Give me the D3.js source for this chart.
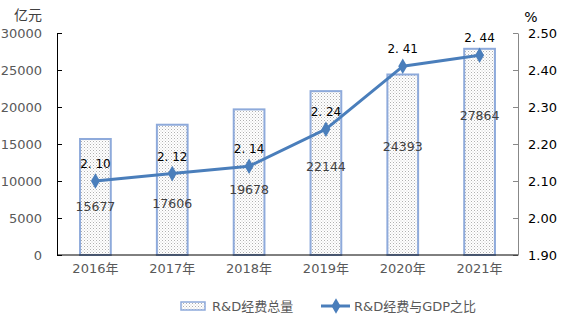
<!DOCTYPE html>
<html><head><meta charset="utf-8">
<script src="https://cdn.jsdelivr.net/npm/d3@7"></script>
<style>body{margin:0;background:#fff}svg{display:block}text{font-family:"DejaVu Sans","Noto Sans CJK SC",sans-serif}</style>
</head><body>
<svg id="c" width="582" height="322"></svg>
<script>
const years = ["2016年","2017年","2018年","2019年","2020年","2021年"];
const rdTotal = [15677, 17606, 19678, 22144, 24393, 27864];
const rdRatio = [2.10, 2.12, 2.14, 2.24, 2.41, 2.44];
const barLabelAt = [6500, 7000, 8900, 11900, 14700, 18800];
const leftTicks = [0, 5000, 10000, 15000, 20000, 25000, 30000];
const rightTicks = [1.90, 2.00, 2.10, 2.20, 2.30, 2.40, 2.50];
const seriesNames = ["R&D经费总量", "R&D经费与GDP之比"];

const svg = d3.select("#c");
const L = 57, R = 518, T = 33, B = 255;
const x = d3.scaleBand().domain(years).range([L, R]).paddingInner(0.6).paddingOuter(0.3);
const xc = d => x(d) + x.bandwidth() / 2;
const yL = d3.scaleLinear().domain([0, 30000]).range([B, T]);
const yR = d3.scaleLinear().domain([1.9, 2.5]).range([B, T]);

const defs = svg.append("defs");
const pat = defs.append("pattern").attr("id", "dots").attr("patternUnits", "userSpaceOnUse")
  .attr("width", 3).attr("height", 3);
pat.append("rect").attr("width", 3).attr("height", 3).attr("fill", "#ffffff");
pat.append("rect").attr("x", 0).attr("y", 0).attr("width", 1).attr("height", 1).attr("fill", "#b0b0b0");
pat.append("rect").attr("x", 1.5).attr("y", 1.5).attr("width", 1).attr("height", 1).attr("fill", "#cccccc");

// left axis
const gl = svg.append("g").attr("transform", `translate(${L},0)`)
  .call(d3.axisLeft(yL).tickValues(leftTicks).tickSizeInner(-5).tickSizeOuter(0).tickPadding(10).tickFormat(d3.format("d")));
gl.select(".domain").attr("stroke", "#000");
gl.selectAll(".tick line").attr("stroke", "#000");
gl.selectAll(".tick text").attr("fill", "#595959").style("font-size", "13px").attr("x", -15);

// right axis
const gr = svg.append("g").attr("transform", `translate(${R},0)`)
  .call(d3.axisRight(yR).tickValues(rightTicks).tickSizeInner(-5).tickSizeOuter(0).tickPadding(10).tickFormat(d3.format(".2f")));
gr.select(".domain").attr("stroke", "#888");
gr.selectAll(".tick line").attr("stroke", "#888");
gr.selectAll(".tick text").attr("fill", "#000").style("font-size", "13px").attr("x", 10);

// bars
svg.append("g").selectAll("rect").data(rdTotal).join("rect")
  .attr("x", (d, i) => x(years[i]))
  .attr("y", d => yL(d))
  .attr("width", x.bandwidth())
  .attr("height", d => B - yL(d))
  .attr("fill", "url(#dots)")
  .attr("stroke", "#8eaadb").attr("stroke-width", 2);

// x axis
const gx = svg.append("g").attr("transform", `translate(0,${B})`)
  .call(d3.axisBottom(x).tickSize(0).tickPadding(9));
gx.select(".domain").attr("stroke", "#000").attr("d", `M${L},0H${R}`);
gx.selectAll(".tick text").attr("fill", "#595959").style("font-size", "13px");

// bar labels
svg.append("g").selectAll("text").data(rdTotal).join("text")
  .attr("x", (d, i) => xc(years[i]))
  .attr("y", (d, i) => yL(barLabelAt[i]))
  .attr("dy", "0.35em")
  .attr("text-anchor", "middle")
  .attr("fill", "#404040").style("font-size", "12.5px")
  .text(d => d);

// line
const line = d3.line().x((d, i) => xc(years[i])).y(d => yR(d));
svg.append("path").datum(rdRatio).attr("d", line)
  .attr("fill", "none").attr("stroke", "#4a7ebb").attr("stroke-width", 3).attr("stroke-linejoin", "round");
const diamond = d3.symbol().type(d3.symbolDiamond).size(70);
svg.append("g").selectAll("path").data(rdRatio).join("path")
  .attr("transform", (d, i) => `translate(${xc(years[i])},${yR(d)})`)
  .attr("d", diamond).attr("fill", "#4a7ebb");
svg.append("g").selectAll("text").data(rdRatio).join("text")
  .attr("x", (d, i) => xc(years[i]))
  .attr("y", d => yR(d) - 13)
  .attr("text-anchor", "middle")
  .attr("fill", "#000").style("font-size", "12px")
  .text(d => d3.format(".2f")(d).replace(".", ". "));

// unit labels
svg.append("text").attr("x", 28).attr("y", 20).attr("text-anchor", "middle")
  .attr("fill", "#404040").style("font-size", "14px").text("亿元");
svg.append("text").attr("x", 531).attr("y", 22).attr("text-anchor", "middle")
  .attr("fill", "#000").style("font-size", "14px").text("%");

// legend
const lg = svg.append("g").style("font-size", "13px");
lg.append("rect").attr("x", 181).attr("y", 302).attr("width", 24).attr("height", 8)
  .attr("fill", "url(#dots)").attr("stroke", "#8eaadb").attr("stroke-width", 1.5);
lg.append("text").attr("x", 212).attr("y", 306).attr("dy", "0.35em").attr("fill", "#595959").text(seriesNames[0]);
lg.append("line").attr("x1", 321).attr("x2", 350).attr("y1", 306).attr("y2", 306)
  .attr("stroke", "#4a7ebb").attr("stroke-width", 3);
lg.append("path").attr("transform", "translate(336,306)").attr("d", diamond).attr("fill", "#4a7ebb");
lg.append("text").attr("x", 354).attr("y", 306).attr("dy", "0.35em").attr("fill", "#595959").text(seriesNames[1]);
</script>
</body></html>
